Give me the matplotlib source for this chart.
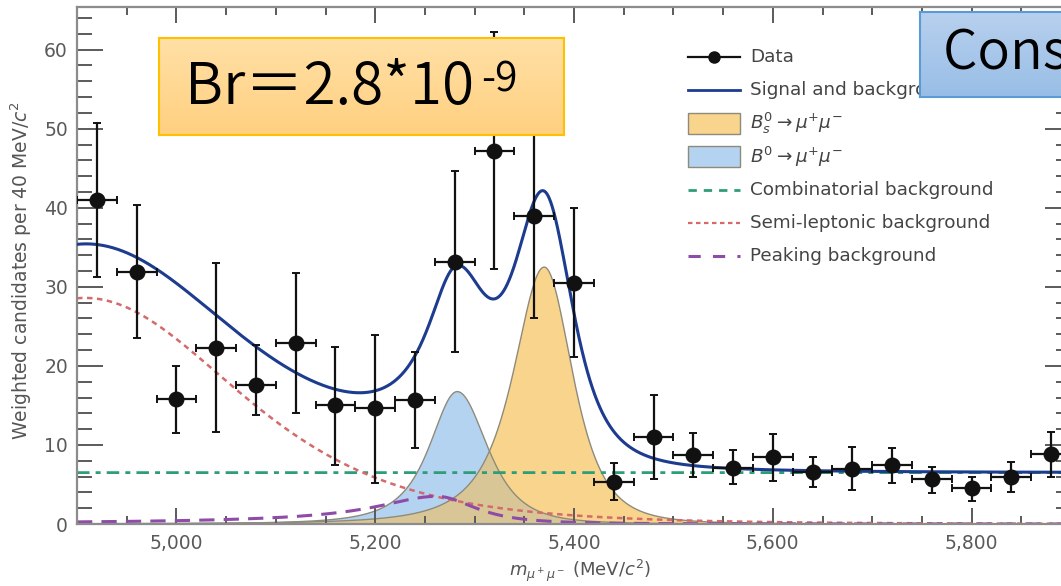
import numpy as np
import matplotlib
matplotlib.use("Agg")
import matplotlib.pyplot as plt
from matplotlib.patches import Rectangle
from matplotlib.ticker import MultipleLocator, FuncFormatter

plt.rcParams['font.family'] = ['DejaVu Sans']
plt.rcParams['mathtext.fontset'] = 'dejavusans'

# ---- binned data (40 MeV/c^2 bins) ----
mass_centres = [4920, 4960, 5000, 5040, 5080, 5120, 5160, 5200, 5240, 5280,
                5320, 5360, 5400, 5440, 5480, 5520, 5560, 5600, 5640, 5680,
                5720, 5760, 5800, 5840, 5880]
candidates = [41.0, 31.9, 15.8, 22.3, 17.6, 22.9, 15.0, 14.7, 15.7, 33.2,
              47.2, 38.9, 30.5, 5.3, 11.0, 8.7, 7.1, 8.5, 6.6, 7.0,
              7.5, 5.7, 4.5, 6.0, 8.9]
err_low = [9.7, 8.4, 4.3, 10.7, 3.8, 8.9, 7.5, 9.5, 6.1, 11.4,
           15.0, 12.8, 9.4, 2.3, 5.3, 2.7, 2.0, 3.0, 1.9, 2.7,
           2.3, 1.8, 1.6, 2.0, 3.0]
err_high = [9.7, 8.4, 4.2, 10.7, 5.1, 8.9, 7.4, 9.2, 6.1, 11.5,
            15.1, 12.8, 9.5, 2.4, 5.3, 2.8, 2.3, 2.9, 1.9, 2.8,
            2.1, 1.5, 1.5, 1.8, 2.7]
bin_half_width = 20

# ---- fit components: (centre, height, left width, left power, right width, right power) ----
bs_shape = (5370.0, 32.5, 48.0, 1.5, 52.0, 2.0)
bd_shape = (5282.5, 16.75, 43.0, 1.5, 55.0, 2.0)
peaking_shape = (5262.0, 3.5, 66.0, 0.75, 59.0, 1.5)
semileptonic_shape = (4908.0, 28.6, 350.0, 3.0, 350.0, 3.0)
combinatorial_level = 6.5

legend_labels = ["Data", "Signal and background",
                 r"$B^0_s \rightarrow \mu^{+}\mu^{-}$",
                 r"$B^0 \rightarrow \mu^{+}\mu^{-}$",
                 "Combinatorial background", "Semi-leptonic background",
                 "Peaking background"]


def peak(m, shape):
    centre, height, wl, pl, wr, pr = shape
    d = m - centre
    left = (1 + (d / wl) ** 2) ** (-pl)
    right = (1 + (d / wr) ** 2) ** (-pr)
    return height * np.where(d < 0, left, right)


m = np.linspace(4900, 5900, 2001)
bs = peak(m, bs_shape)
bd = peak(m, bd_shape)
pk = peak(m, peaking_shape)
sl = peak(m, semileptonic_shape)
comb = np.full_like(m, combinatorial_level)
total = bs + bd + pk + sl + comb

W, H = 1061, 586
fig = plt.figure(figsize=(W / 100, H / 100), dpi=100)
ax = fig.add_axes([77 / W, 62 / H, 994 / W, 517 / H])

c_blue_fill = '#B4D3F0'
c_orange_fill = '#F9D48C'
c_overlap = '#D9C696'
c_edge = '#8E8B7C'
c_total = '#1D3C8F'
c_comb = '#2E9E78'
c_semi = '#D46A6A'
c_peak = '#8E4BA8'
c_data = '#111111'

style_comb = dict(color=c_comb, lw=2.0, linestyle=(0, (4.5, 2.2, 1.8, 2.2)))
style_semi = dict(color=c_semi, lw=1.8, linestyle=(0, (2.2, 1.8)))
style_peak = dict(color=c_peak, lw=2.2, linestyle=(0, (5, 3)))
style_total = dict(color=c_total, lw=2.2)

ax.fill_between(m, 0, bd, facecolor=c_blue_fill, edgecolor='none', zorder=1)
ax.fill_between(m, 0, bs, facecolor=c_orange_fill, edgecolor='none', zorder=1.1)
ax.fill_between(m, 0, np.minimum(bs, bd), facecolor=c_overlap, edgecolor='none', zorder=1.2)
ax.plot(m, bd, color=c_edge, lw=1.0, zorder=1.3)
ax.plot(m, bs, color=c_edge, lw=1.0, zorder=1.3)

ax.plot(m, comb, zorder=2, **style_comb)
ax.plot(m, sl, zorder=2, **style_semi)
ax.plot(m, pk, zorder=2, **style_peak)
ax.plot(m, total, zorder=3, **style_total)

ax.errorbar(mass_centres, candidates, xerr=bin_half_width,
            yerr=[err_low, err_high], fmt='o', color=c_data, ms=10.5,
            elinewidth=1.6, capsize=3, capthick=1.4, zorder=10)

ax.set_xlim(4900, 5900)
ax.set_ylim(0, 65.4)
ax.xaxis.set_major_locator(MultipleLocator(200))
ax.xaxis.set_minor_locator(MultipleLocator(50))
ax.yaxis.set_major_locator(MultipleLocator(10))
ax.yaxis.set_minor_locator(MultipleLocator(2))
ax.xaxis.set_major_formatter(FuncFormatter(lambda v, _: f"{v:,.0f}"))

tick_col = '#5a5a5a'
ax.tick_params(which='both', direction='in', top=True, right=True,
               color=tick_col, labelcolor='#5a5a5a', labelsize=13.5, width=1.4)
ax.tick_params(axis='y', which='major', length=18.5, pad=6.5)
ax.tick_params(axis='y', which='minor', length=10.5)
ax.tick_params(axis='x', which='major', length=11.5, pad=7)
ax.tick_params(axis='x', which='minor', length=5.8)
for s in ax.spines.values():
    s.set_color('#8c8c8c')
    s.set_linewidth(1.6)

ax.set_ylabel(r"Weighted candidates per 40 MeV/$c^2$", fontsize=13.5, color='#555555')
ax.yaxis.set_label_coords(-0.043, 0.49)
ax.set_xlabel(r"$m_{\mu^+\mu^-}$ (MeV/$c^2$)", fontsize=13, color='#555555')
ax.xaxis.set_label_coords(0.506, -0.066)

# ---- legend, laid out row by row with an even pitch ----
leg_x0, leg_x1, leg_tx = 0.6147, 0.6670, 0.6770
leg_top, leg_step = 0.9033, 0.0642
leg_box_h = 0.042
tr = ax.transAxes
for i, label in enumerate(legend_labels):
    y = leg_top - i * leg_step
    if i == 0:
        ax.plot([leg_x0, leg_x1], [y, y], transform=tr, color=c_data, lw=1.6,
                clip_on=False, zorder=20)
        ax.plot([(leg_x0 + leg_x1) / 2], [y], 'o', transform=tr, color=c_data,
                ms=8, clip_on=False, zorder=20)
    elif i == 1:
        ax.plot([leg_x0, leg_x1], [y, y], transform=tr, clip_on=False, zorder=20,
                **dict(style_total, lw=2.0))
    elif i in (2, 3):
        fc = c_orange_fill if i == 2 else c_blue_fill
        ax.add_patch(Rectangle((leg_x0, y - leg_box_h / 2), leg_x1 - leg_x0, leg_box_h,
                               transform=tr, facecolor=fc, edgecolor=c_edge, lw=1.0,
                               clip_on=False, zorder=20))
    else:
        st = {4: dict(color=c_comb, lw=2.0, linestyle=(0, (3, 2.5))),
              5: dict(color=c_semi, lw=1.6, linestyle=(0, (2, 1.6))),
              6: dict(color=c_peak, lw=2.2, linestyle=(0, (4, 4)))}[i]
        ax.plot([leg_x0, leg_x1], [y, y], transform=tr, clip_on=False, zorder=20, **st)
    ax.text(leg_tx, y, label, transform=tr, fontsize=13.2, color='#444444',
            ha='left', va='center', zorder=20)


def gradient_box(rect, top_rgb, bottom_rgb, edge):
    bax = fig.add_axes(rect, zorder=5)
    t = np.linspace(0, 1, 256)[:, None, None]
    top = np.array(top_rgb, dtype=float)[None, None, :] / 255
    bot = np.array(bottom_rgb, dtype=float)[None, None, :] / 255
    img = (1 - t) * top + t * bot
    bax.imshow(img, aspect='auto', extent=(0, 1, 0, 1), origin='upper')
    bax.set_xlim(0, 1)
    bax.set_ylim(0, 1)
    bax.set_xticks([])
    bax.set_yticks([])
    for s in bax.spines.values():
        s.set_color(edge)
        s.set_linewidth(1.5)
    return bax


cjk = ['Noto Sans CJK JP', 'DejaVu Sans']

br_ax = gradient_box([159 / W, (H - 135) / H, 405 / W, 97 / H],
                     (255, 224, 166), (255, 208, 128), '#FFC000')
br_txt = br_ax.text(0.064, 0.32, "Br＝2.8*10", fontsize=42, family=cjk,
                    weight=350, ha='left', va='baseline', color='black')
br_ax.annotate("-9", xy=(1, 1), xycoords=br_txt, xytext=(5, 0),
               textcoords='offset points', fontsize=29.5, family=cjk,
               weight=350, ha='left', va='top', color='black')

sm_ax = gradient_box([920 / W, (H - 97) / H, 0.2, 85 / H],
                     (184, 208, 238), (152, 190, 230), '#5B9BD5')
sm_ax.text(0.108, 0.34, "Consistent with SM", fontsize=39, family=cjk,
           weight=350, ha='left', va='baseline', color='black')

fig.savefig("out.png", dpi=100)
